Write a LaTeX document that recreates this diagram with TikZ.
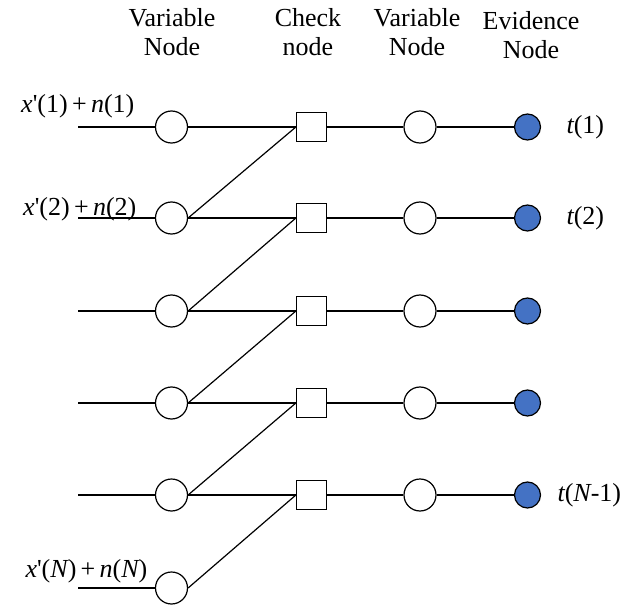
\documentclass[tikz,border=0pt]{standalone}
\usepackage{fontspec}
\setmainfont{Liberation Serif}
\definecolor{evblue}{RGB}{68,114,196}
\begin{document}
\begin{tikzpicture}[x=1pt,y=-1pt, line width=1.2pt,
  var/.style={circle,draw,fill=white,minimum size=32pt,inner sep=0pt},
  chk/.style={rectangle,draw,fill=white,minimum width=30pt,minimum height=29pt,inner sep=0pt},
  evid/.style={circle,draw,fill=evblue,minimum size=26pt,inner sep=0pt},
  hdr/.style={font=\fontsize{26}{28}\selectfont,anchor=base,inner sep=0pt},
  lbl/.style={font=\fontsize{26}{28}\selectfont,inner sep=0pt}]
\useasboundingbox (0,0) rectangle (625,605);

% headers
\node[hdr] (h1a) at (172,27) {Variable};
\node[hdr] (h1b) at (172,55) {Node};
\node[hdr] (h2a) at (308,27) {Check};
\node[hdr] (h2b) at (308,55) {node};
\node[hdr] (h3a) at (417,27) {Variable};
\node[hdr] (h3b) at (417,55) {Node};
\node[hdr] (h4a) at (531,29) {Evidence};
\node[hdr] (h4b) at (531,58) {Node};

% left variable nodes with inputs
\foreach \i/\y in {1/127,2/218,3/311,4/403,5/495,6/588}{
  \coordinate (in\i) at (78,\y);
  \node[var] (v\i) at (171.5,\y) {};
  \draw (in\i) -- (v\i);
}

% check, middle variable and evidence nodes
\foreach \i/\y in {1/127,2/218,3/311,4/403,5/495}{
  \node[chk] (c\i) at (311.5,\y) {};
  \node[var] (m\i) at (420,\y) {};
  \node[evid] (e\i) at (527.5,\y) {};
  \draw (c\i) -- (m\i) -- (e\i);
  \draw (v\i.east) -- (c\i.west);
}
\foreach \i/\j in {2/1,3/2,4/3,5/4,6/5}{
  \draw (v\i.east) -- (c\j.west);
}

% input labels
\node[lbl,anchor=base east] (l1) at (135,112) {\itshape x\upshape\textquotesingle(1)\,+\,\itshape n\upshape(1)};
\node[lbl,anchor=base east] (l2) at (137,215) {\itshape x\upshape\textquotesingle(2)\,+\,\itshape n\upshape(2)};
\node[lbl,anchor=base east] (l6) at (148,577) {\itshape x\upshape\textquotesingle(\itshape N\upshape)\,+\,\itshape n\upshape(\itshape N\upshape)};

% evidence labels
\node[lbl,anchor=west] (t1) at (566,127) {\itshape t\upshape(1)};
\node[lbl,anchor=west] (t2) at (566,218) {\itshape t\upshape(2)};
\node[lbl,anchor=west] (t5) at (557,495) {\itshape t\upshape(\itshape N\upshape-1)};
\end{tikzpicture}
\end{document}
